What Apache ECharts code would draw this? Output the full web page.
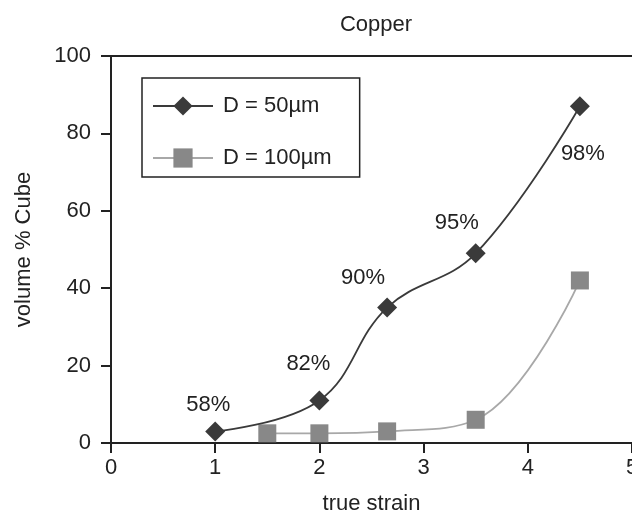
<!DOCTYPE html>
<html>
<head>
<meta charset="utf-8">
<script src="https://cdn.jsdelivr.net/npm/echarts@6/dist/echarts.min.js"></script>
<style>
  html, body { margin: 0; padding: 0; background: #fff; }
  #chart { width: 632px; height: 518px; }
</style>
</head>
<body>
<div id="chart"></div>
<script>
// Cube texture volume fraction in copper vs. true strain, two grain sizes
const seriesNames = ['D = 50µm', 'D = 100µm'];
const strain50 = [1.0, 2.0, 2.65, 3.5, 4.5];
const cube50 = [3, 11, 35, 49, 87];
const strain100 = [1.5, 2.0, 2.65, 3.5, 4.5];
const cube100 = [2.5, 2.5, 3, 6, 42];
const reduction50 = ['58%', '82%', '90%', '95%', '98%'];
const xTicks = [0, 1, 2, 3, 4, 5];
const yTicks = [0, 20, 40, 60, 80, 100];

// label placement around each D = 50µm point
const labelOffsets = [[-7, -26], [-11, -36], [-24, -30], [-19, -30], [3, 48]];

const FONT = "'Liberation Sans', Arial, Helvetica, sans-serif";
const INK = '#222';

const pairs = (xs, ys) => xs.map((x, i) => [x, ys[i]]);

const data50 = strain50.map((x, i) => ({
  value: [x, cube50[i]],
  label: {
    show: true,
    position: 'inside',
    offset: labelOffsets[i],
    formatter: reduction50[i],
    color: INK,
    fontFamily: FONT,
    fontSize: 22
  }
}));

const chart = echarts.init(document.getElementById('chart'), null, { renderer: 'canvas' });

chart.setOption({
  animation: false,
  backgroundColor: '#fff',
  title: {
    text: 'Copper',
    left: 371,
    top: 9,
    textAlign: 'center',
    textStyle: { fontFamily: FONT, fontSize: 22, fontWeight: 'normal', color: INK }
  },
  grid: { left: 111, top: 56, right: 0, bottom: 75, containLabel: false, outerBoundsMode: 'none' },
  legend: {
    orient: 'vertical',
    left: 142,
    top: 78,
    padding: [17, 28, 8, 10],
    itemGap: 30,
    itemWidth: 60,
    itemHeight: 24,
    borderColor: INK,
    borderWidth: 1.5,
    borderRadius: 0,
    backgroundColor: '#fff',
    textStyle: { fontFamily: FONT, fontSize: 22, color: INK, padding: [0, 0, 0, 5] },
    data: seriesNames
  },
  xAxis: [
    {
      type: 'value',
      min: xTicks[0],
      max: xTicks[xTicks.length - 1],
      interval: 1,
      name: 'true strain',
      nameLocation: 'middle',
      nameGap: 50,
      nameTextStyle: { fontFamily: FONT, fontSize: 22, color: INK },
      axisLine: { show: true, onZero: false, lineStyle: { color: INK, width: 2 } },
      axisTick: { show: true, length: 10, lineStyle: { color: INK, width: 2 } },
      axisLabel: { fontFamily: FONT, fontSize: 22, color: INK, margin: 14 },
      splitLine: { show: false }
    },
    {
      type: 'value',
      position: 'top',
      min: xTicks[0],
      max: xTicks[xTicks.length - 1],
      axisLine: { show: true, onZero: false, lineStyle: { color: INK, width: 2 } },
      axisTick: { show: false },
      axisLabel: { show: false },
      splitLine: { show: false }
    }
  ],
  yAxis: {
    type: 'value',
    min: yTicks[0],
    max: yTicks[yTicks.length - 1],
    interval: 20,
    name: 'volume % Cube',
    nameLocation: 'middle',
    nameGap: 76,
    nameTextStyle: { fontFamily: FONT, fontSize: 22, color: INK },
    axisLine: { show: true, lineStyle: { color: INK, width: 2 } },
    axisTick: { show: true, length: 10, lineStyle: { color: INK, width: 2 } },
    axisLabel: { fontFamily: FONT, fontSize: 22, color: INK, margin: 20 },
    splitLine: { show: false }
  },
  series: [
    {
      name: seriesNames[0],
      type: 'line',
      smooth: 0.4,
      data: data50,
      symbol: 'diamond',
      symbolSize: 20,
      lineStyle: { color: '#3a3a3a', width: 1.8 },
      itemStyle: { color: '#3a3a3a' },
      z: 3
    },
    {
      name: seriesNames[1],
      type: 'line',
      smooth: 0.4,
      data: pairs(strain100, cube100),
      symbol: 'rect',
      symbolSize: 18,
      lineStyle: { color: '#a8a8a8', width: 1.8 },
      itemStyle: { color: '#888888' },
      z: 2
    }
  ]
});
</script>
</body>
</html>
